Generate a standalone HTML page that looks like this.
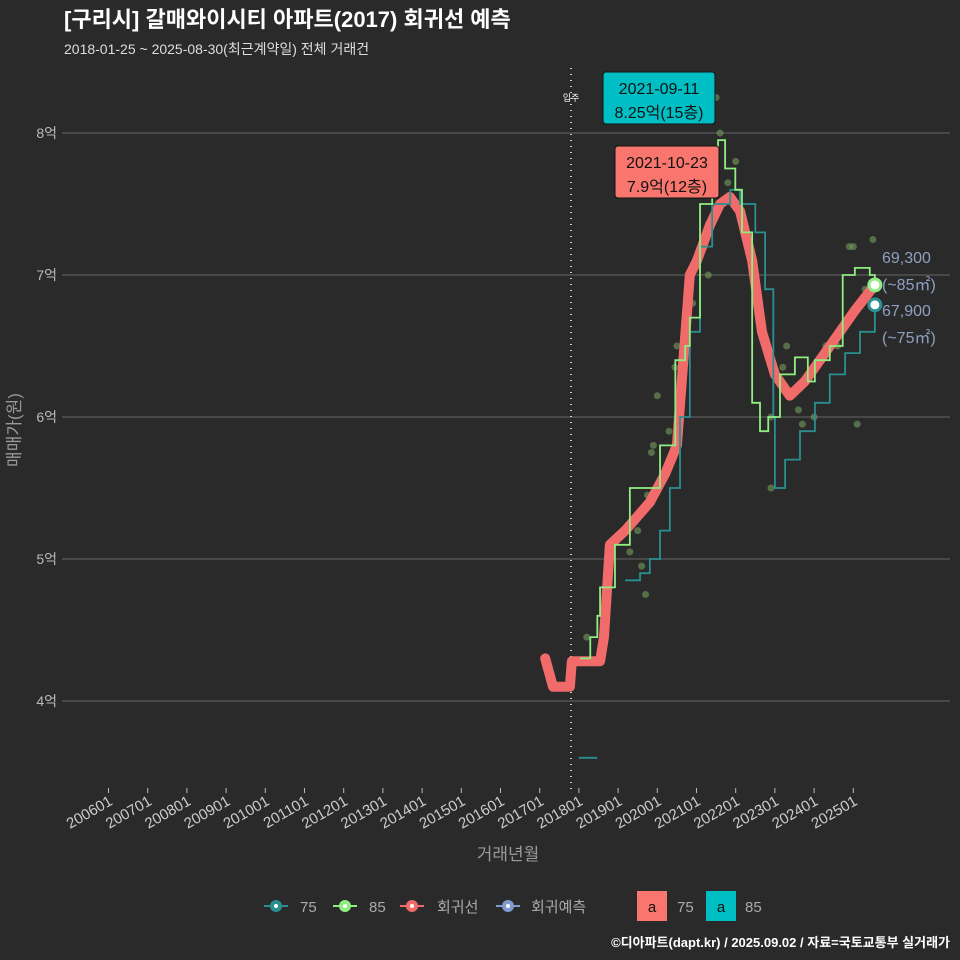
<!DOCTYPE html>
<html><head><meta charset="utf-8">
<style>
html,body{margin:0;padding:0;background:#2b2a2b;}
body{width:960px;height:960px;overflow:hidden;font-family:"Liberation Sans","Noto Sans CJK KR",sans-serif;}
svg{display:block;}
svg text{font-family:"Liberation Sans","Noto Sans CJK KR",sans-serif;}
</style></head>
<body>
<svg id="chart" width="960" height="960" xmlns="http://www.w3.org/2000/svg">
<rect x="0" y="0" width="960" height="960" fill="#2b2a2b"/>
<text x="64" y="27" font-size="22" font-weight="bold" fill="#ffffff">[구리시] 갈매와이시티 아파트(2017) 회귀선 예측</text>
<text x="64" y="54" font-size="14" fill="#dddddd">2018-01-25 ~ 2025-08-30(최근계약일) 전체 거래건</text>
<g id="grid"></g>
<g id="marks"></g>
<text x="20" y="430" font-size="17" fill="#999" transform="rotate(-90 20 430)" text-anchor="middle">매매가(원)</text>
<text x="508" y="860" font-size="17" fill="#999" text-anchor="middle">거래년월</text>
<g font-size="15" fill="#aaa">
<g><line x1="264" y1="906" x2="288" y2="906" stroke="#2a8f90" stroke-width="2"/><circle cx="276" cy="906" r="6" fill="#2a8f90"/><circle cx="276" cy="906" r="2" fill="#fff"/><text x="300" y="912" fill="#aaa">75</text></g>
<g><line x1="333" y1="906" x2="357" y2="906" stroke="#90ee80" stroke-width="2"/><circle cx="345" cy="906" r="6" fill="#90ee80"/><circle cx="345" cy="906" r="2" fill="#fff"/><text x="369" y="912" fill="#aaa">85</text></g>
<g><line x1="400" y1="906" x2="424" y2="906" stroke="#f26b6b" stroke-width="2"/><circle cx="412" cy="906" r="6" fill="#f26b6b"/><circle cx="412" cy="906" r="2" fill="#fff"/><text x="437" y="912" fill="#aaa">회귀선</text></g>
<g><line x1="496" y1="906" x2="520" y2="906" stroke="#7f9bd0" stroke-width="2"/><circle cx="508" cy="906" r="6" fill="#7f9bd0"/><circle cx="508" cy="906" r="2" fill="#fff"/><text x="531" y="912" fill="#aaa">회귀예측</text></g>
<g><rect x="637" y="891" width="30" height="30" fill="#f8766d"/><text x="652" y="912" text-anchor="middle" fill="#111">a</text><text x="677" y="912" fill="#aaa">75</text></g>
<g><rect x="706" y="891" width="30" height="30" fill="#00bfc4"/><text x="721" y="912" text-anchor="middle" fill="#111">a</text><text x="745" y="912" fill="#aaa">85</text></g>
</g>
<text x="950" y="947" font-size="13" font-weight="bold" fill="#fff" text-anchor="end">©디아파트(dapt.kr) / 2025.09.02 / 자료=국토교통부 실거래가</text>
</svg>
<script>
const yTicks=[4,5,6,7,8];
const yTickLabels=["4억","5억","6억","7억","8억"];
const xTickYears=[2006,2007,2008,2009,2010,2011,2012,2013,2014,2015,2016,2017,2018,2019,2020,2021,2022,2023,2024,2025];
const xTickLabels=["200601","200701","200801","200901","201001","201101","201201","201301","201401","201501","201601","201701","201801","201901","202001","202101","202201","202301","202401","202501"];
const regT=[2017.14,2017.34,2017.77,2017.82,2018.54,2018.64,2018.79,2019.18,2019.81,2020.2,2020.5,2020.83,2021.01,2021.34,2021.6,2021.85,2022.11,2022.42,2022.67,2023.0,2023.38,2023.76,2024.15,2024.66,2025.04,2025.55];
const regV=[4.3,4.1,4.1,4.28,4.28,4.45,5.1,5.2,5.4,5.6,5.8,7.0,7.1,7.35,7.5,7.55,7.45,7.1,6.6,6.3,6.15,6.25,6.4,6.6,6.75,6.93];
const s85T=[2018.03,2018.29,2018.47,2018.54,2018.84,2018.92,2019.3,2020.07,2020.46,2020.71,2020.83,2021.09,2021.4,2021.55,2021.73,2021.99,2022.16,2022.42,2022.62,2022.83,2023.13,2023.51,2023.84,2024.02,2024.4,2024.73,2025.04,2025.42,2025.55];
const s85V=[4.3,4.45,4.6,4.8,4.8,5.1,5.5,5.8,6.4,6.5,6.7,7.5,7.9,7.95,7.75,7.6,7.3,6.1,5.9,6.0,6.3,6.42,6.25,6.4,6.5,7.0,7.05,7.0,6.93];
const s75T=[2019.18,2019.56,2019.81,2020.07,2020.32,2020.58,2020.83,2021.09,2021.4,2021.86,2022.11,2022.5,2022.75,2022.96,2023.0,2023.26,2023.64,2024.02,2024.4,2024.79,2025.17,2025.55];
const s75V=[4.85,4.9,5.0,5.2,5.5,6.0,6.6,7.2,7.5,7.6,7.5,7.3,6.9,6.0,5.5,5.7,5.9,6.1,6.3,6.45,6.6,6.79];
const dotT=[2018.2,2019.3,2019.5,2019.6,2019.7,2019.9,2020.0,2020.3,2020.5,2020.9,2021.3,2021.5,2021.6,2021.8,2022.0,2022.4,2022.9,2023.3,2023.6,2024.0,2024.6,2024.9,2025.0,2025.1,2025.3,2025.5,2019.75,2019.85,2020.45,2021.2,2022.9,2023.2,2023.7,2024.3];
const dotV=[4.45,5.05,5.2,4.95,4.75,5.8,6.15,5.9,6.5,6.8,7.0,8.25,8.0,7.65,7.8,7.1,6.0,6.5,6.05,6.0,6.5,7.2,7.2,5.95,6.9,7.25,5.45,5.75,6.35,7.2,5.5,6.35,5.95,6.5];
const ns="http://www.w3.org/2000/svg";
const X=t=>108.5+(t-2006)*39.2;
const Y=v=>701-(v-4)*142;
function mk(tag,attrs,parent){const e=document.createElementNS(ns,tag);for(const k in attrs)e.setAttribute(k,attrs[k]);parent.appendChild(e);return e;}
const grid=document.getElementById('grid'),marks=document.getElementById('marks');
yTicks.forEach((v,i)=>{
 const l=mk('line',{x1:62,x2:950,y1:Y(v),y2:Y(v),stroke:'#666','stroke-width':1},grid);
 
 
 const t=mk('text',{x:57,y:Y(v)+5,'text-anchor':'end','font-size':14,fill:'#bbb'},grid);
 t.textContent=yTickLabels[i];
 
 
});
xTickYears.forEach((yr,i)=>{
 const x=X(yr);
 const tk=mk('line',{x1:x,x2:x,y1:788,y2:793,stroke:'#bbb'},grid);
 
 
 const t=mk('text',{x:x+5,y:804,'text-anchor':'end','font-size':15,fill:'#ccc',transform:`rotate(-30 ${x+5} 804)`},grid);
 t.textContent=xTickLabels[i];
 
 
});
const mv=mk('line',{x1:571,x2:571,y1:68,y2:790,stroke:'#ccc','stroke-width':2,'stroke-dasharray':'1 5'},grid);


const mvt=mk('text',{x:571,y:101,'text-anchor':'middle','font-size':9,fill:'#fff'},grid);
mvt.textContent='입주';


dotT.forEach((t,i)=>{
 const c=mk('circle',{cx:X(t),cy:Y(dotV[i]),r:3.5,fill:'#7aa860','fill-opacity':0.55},marks);
 
 
});
function stepPath(T,V){let d='';T.forEach((t,i)=>{const x=X(t),y=Y(V[i]);if(i==0)d='M'+x+' '+y;else d+=' H'+x+' V'+y;});return d;}
function linePath(T,V){return T.map((t,i)=>(i?'L':'M')+X(t)+' '+Y(V[i])).join(' ');}
const reg=mk('path',{d:linePath(regT,regV),fill:'none',stroke:'#f26b6b','stroke-width':10,'stroke-linejoin':'round','stroke-linecap':'round'},marks);


const l75=mk('path',{d:stepPath(s75T,s75V),fill:'none',stroke:'#2a8f90','stroke-width':1.8},marks);


const l75b=mk('line',{x1:X(2018.0),x2:X(2018.47),y1:Y(3.6),y2:Y(3.6),stroke:'#2a8f90','stroke-width':1.8},marks);


const l85=mk('path',{d:stepPath(s85T,s85V),fill:'none',stroke:'#90ee80','stroke-width':1.8},marks);


const e85=mk('circle',{cx:X(s85T[s85T.length-1]),cy:Y(s85V[s85V.length-1]),r:6,fill:'#fff',stroke:'#90ee80','stroke-width':3},marks);


const e75=mk('circle',{cx:X(s75T[s75T.length-1]),cy:Y(s75V[s75V.length-1]),r:6,fill:'#fff',stroke:'#2a8f90','stroke-width':3},marks);


[['69,300',263],['(~85㎡)',290],['67,900',316],['(~75㎡)',343]].forEach(a=>{
 const t=mk('text',{x:882,y:a[1],'font-size':16,fill:'#8ea0c0'},marks);
 t.textContent=a[0];
 
 
});
function box(x,y,w,h,fill,l1,l2,name){
 const g=mk('g',{},marks);
 
 
 mk('rect',{x:x,y:y,width:w,height:h,rx:3,fill:fill,stroke:'#111'},g);
 const a=mk('text',{x:x+w/2,y:y+22,'text-anchor':'middle','font-size':16,fill:'#111'},g);a.textContent=l1;
 const b=mk('text',{x:x+w/2,y:y+46,'text-anchor':'middle','font-size':16,fill:'#111'},g);b.textContent=l2;
}
box(603,72,112,52,'#00bfc4','2021-09-11','8.25억(15층)','max-85-annotation');
box(615,146,104,52,'#f8766d','2021-10-23','7.9억(12층)','max-75-annotation');
</script>
</body></html>
